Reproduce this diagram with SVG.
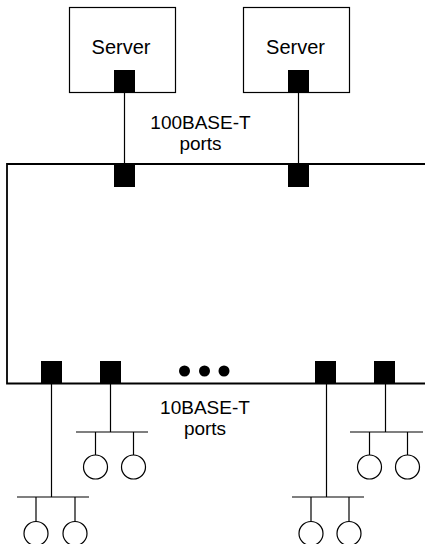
<svg xmlns="http://www.w3.org/2000/svg" width="425" height="544" viewBox="0 0 425 544">
<style>
.box{fill:#fff;stroke:#000;stroke-width:1.2}
.sw{fill:#fff;stroke:#000;stroke-width:1.8}
.port{fill:#000}
.ln{stroke:#000;stroke-width:1.2;fill:none}
.host{fill:#fff;stroke:#000;stroke-width:1.2}
.dot{fill:#000}
text{font-family:"Liberation Sans",Arial,sans-serif;font-size:19px;fill:#000;text-anchor:middle}
.srv{font-size:20px}
</style>
<rect width="425" height="544" fill="#fff"/>
<g id="connectors">
<line class="ln" x1="124.5" y1="92" x2="124.5" y2="164"/>
<line class="ln" x1="298.5" y1="92" x2="298.5" y2="164"/>
<line class="ln" x1="51.5" y1="384" x2="51.5" y2="497"/>
<line class="ln" x1="110.5" y1="384" x2="110.5" y2="432"/>
<line class="ln" x1="326.5" y1="384" x2="326.5" y2="497"/>
<line class="ln" x1="385.5" y1="384" x2="385.5" y2="432"/>
</g>
<g id="switch">
<path class="sw" d="M426 164 H7 V383.5 H426"/>
<rect class="port" x="114" y="164" width="21" height="23"/>
<rect class="port" x="288" y="164" width="21" height="23"/>
<rect class="port" x="41" y="361" width="21" height="23"/>
<rect class="port" x="100" y="361" width="21" height="23"/>
<rect class="port" x="315" y="361" width="21" height="23"/>
<rect class="port" x="374" y="361" width="21" height="23"/>
<circle class="dot" cx="184.5" cy="371" r="5.5"/>
<circle class="dot" cx="204.5" cy="371" r="5.5"/>
<circle class="dot" cx="224" cy="371" r="5.5"/>
</g>
<g id="server1">
<rect class="box" x="69.5" y="7.5" width="106" height="85"/>
<text class="srv" x="121" y="53.5">Server</text>
<rect class="port" x="114" y="70" width="21" height="22.5"/>
</g>
<g id="server2">
<rect class="box" x="243.5" y="7.5" width="106" height="85"/>
<text class="srv" x="295.5" y="53.5">Server</text>
<rect class="port" x="288" y="70" width="21" height="22.5"/>
</g>
<g id="label100">
<text x="200.5" y="128.5">100BASE-T</text>
<text x="200.5" y="150">ports</text>
</g>
<g id="label10">
<text x="205" y="414">10BASE-T</text>
<text x="205" y="435">ports</text>
</g>
<g id="seg1">
<line class="ln" x1="17" y1="497" x2="89" y2="497"/>
<line class="ln" x1="36" y1="497" x2="36" y2="521.5"/>
<line class="ln" x1="75" y1="497" x2="75" y2="521.5"/>
<circle class="host" cx="36" cy="533.5" r="12"/>
<circle class="host" cx="75" cy="533.5" r="12"/>
</g>
<g id="seg2">
<line class="ln" x1="76" y1="432" x2="148" y2="432"/>
<line class="ln" x1="95.5" y1="432" x2="95.5" y2="455"/>
<line class="ln" x1="133.5" y1="432" x2="133.5" y2="455"/>
<circle class="host" cx="95.5" cy="467" r="12"/>
<circle class="host" cx="133.5" cy="467" r="12"/>
</g>
<g id="seg3">
<line class="ln" x1="292" y1="497" x2="364" y2="497"/>
<line class="ln" x1="311" y1="497" x2="311" y2="521.5"/>
<line class="ln" x1="349" y1="497" x2="349" y2="521.5"/>
<circle class="host" cx="311" cy="533.5" r="12"/>
<circle class="host" cx="349" cy="533.5" r="12"/>
</g>
<g id="seg4">
<line class="ln" x1="350" y1="432" x2="423" y2="432"/>
<line class="ln" x1="369.5" y1="432" x2="369.5" y2="455"/>
<line class="ln" x1="407.5" y1="432" x2="407.5" y2="455"/>
<circle class="host" cx="369.5" cy="467" r="12"/>
<circle class="host" cx="407.5" cy="467" r="12"/>
</g>
</svg>
